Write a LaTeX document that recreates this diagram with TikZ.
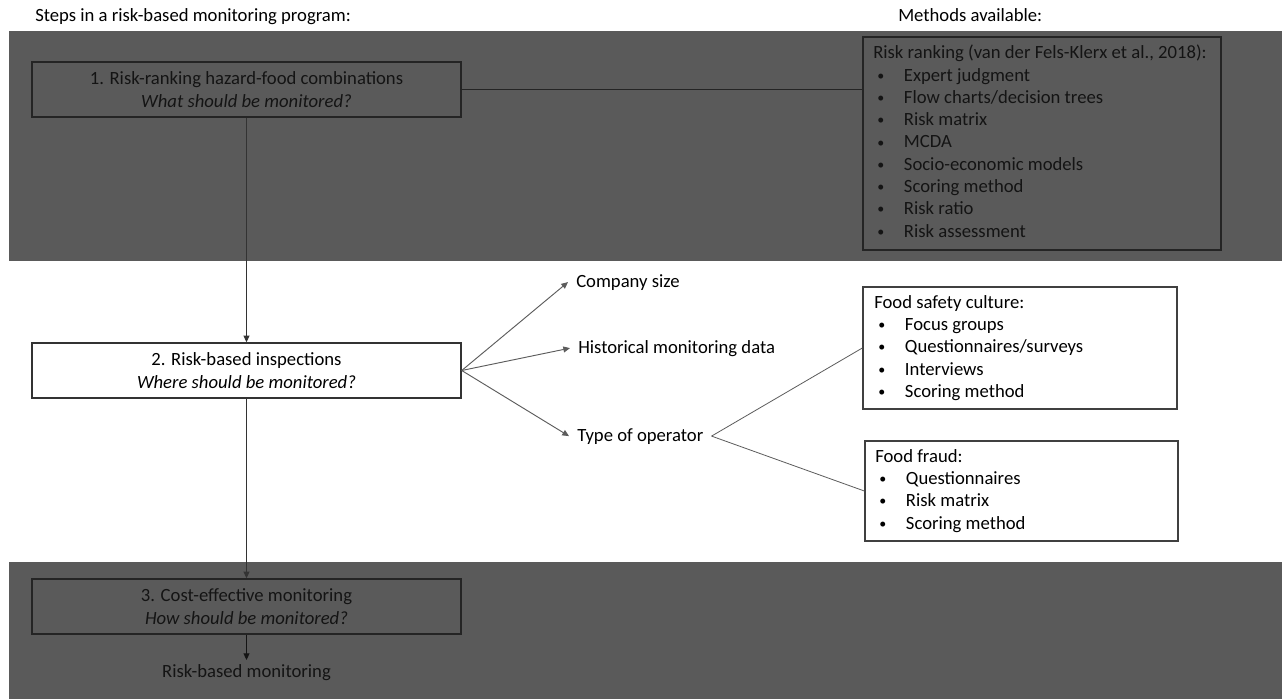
\documentclass[tikz,border=0pt]{standalone}
\usepackage{fontspec}
\setmainfont{Carlito}
\usetikzlibrary{arrows.meta}
\definecolor{band}{HTML}{5A5A5A}
\definecolor{darkink}{HTML}{141414}
\definecolor{darkedge}{HTML}{242424}
\definecolor{conn}{HTML}{5C5C5C}
\newcommand\bl{\hspace*{3pt}\makebox[20pt][l]{\raisebox{0.6pt}{\scalebox{0.75}{\textbullet}}}}
\tikzset{
  txt/.style={font=\fontsize{14}{16.7}\selectfont, inner sep=0pt},
  darkbox/.style={draw=darkedge, line width=1.1pt, minimum width=#1, inner sep=0pt},
  lightbox/.style={draw=black!75, line width=1pt, inner sep=0pt},
  stepbox/.style={darkbox=429px, minimum height=55*0.75pt, align=center, text=darkink,
     font=\fontsize{14}{16.7}\selectfont, minimum width=429*0.75pt},
  arr/.style={-{Triangle[length=5pt,width=4.5pt]}, line width=0.7pt},
  lbl/.style={txt, inner xsep=6pt, anchor=base west},
}
\begin{document}
\begin{tikzpicture}[x=0.75pt,y=-0.75pt]
\useasboundingbox (0,0) rectangle (1282,699);
\fill[white] (0,0) rectangle (1282,699);
% bands
\fill[band] (9,31) rectangle (1282,261);
\fill[band] (9,562) rectangle (1282,699);
% titles
\node[txt, anchor=base west] (t1) at (35,22) {Steps in a risk-based monitoring program:};
\node[txt, anchor=base west] (t2) at (898,22) {Methods available:};
% step boxes
\node[stepbox] (b1) at (246.5,89.5) {1. Risk-ranking hazard-food combinations\\\textit{What should be monitored?}};
\node[stepbox, draw=black!80, text=black, fill=white] (b2) at (246.5,370.5) {2. Risk-based inspections\\\textit{Where should be monitored?}};
\node[stepbox] (b3) at (246.5,606.5) {3. Cost-effective monitoring\\\textit{How should be monitored?}};
\node[txt, text=darkink, anchor=north, inner ysep=3pt] (rbm) at (246.5,660) {Risk-based monitoring};
% risk ranking box
\node[darkbox=358*0.75pt, minimum height=213*0.75pt] (rr) at (1042,143.5) {};
\node[txt, text=darkink, align=left, anchor=north west] (rrt) at (873,45)
 {Risk ranking (van der Fels-Klerx et al., 2018):\\
  \bl Expert judgment\\
  \bl Flow charts/decision trees\\
  \bl Risk matrix\\
  \bl MCDA\\
  \bl Socio-economic models\\
  \bl Scoring method\\
  \bl Risk ratio\\
  \bl Risk assessment};
% factor labels
\node[lbl] (cs) at (568,287) {Company size};
\node[lbl] (hm) at (570,353) {Historical monitoring data};
\node[lbl] (to) at (569,441) {Type of operator};
% method boxes
\node[lightbox, minimum width=314*0.75pt, minimum height=122*0.75pt] (fsc) at (1020,348) {};
\node[txt, align=left, anchor=north west] (fsct) at (874,295)
 {Food safety culture:\\
  \bl Focus groups\\
  \bl Questionnaires/surveys\\
  \bl Interviews\\
  \bl Scoring method};
\node[lightbox, minimum width=313*0.75pt, minimum height=100*0.75pt] (ff) at (1021.5,491) {};
\node[txt, align=left, anchor=north west] (fft) at (875,449)
 {Food fraud:\\
  \bl Questionnaires\\
  \bl Risk matrix\\
  \bl Scoring method};
% connectors
\draw[darkedge, line width=0.7pt] (b1.east) -- (b1.east -| rr.west);
\draw[arr, black!80] (b1.south) -- (b2.north);
\draw[arr, black!80] (b2.south) -- (b3.north);
\draw[arr, darkink] (b3.south) -- (rbm.north);
\draw[arr, conn] (b2.east) -- (cs.west);
\draw[arr, conn] (b2.east) -- (hm.west);
\draw[arr, conn] (b2.east) -- (to.west);
\draw[conn, line width=0.6pt] (to.east) -- (fsc.west);
\draw[conn, line width=0.6pt] (to.east) -- (ff.west);
\end{tikzpicture}
\end{document}
